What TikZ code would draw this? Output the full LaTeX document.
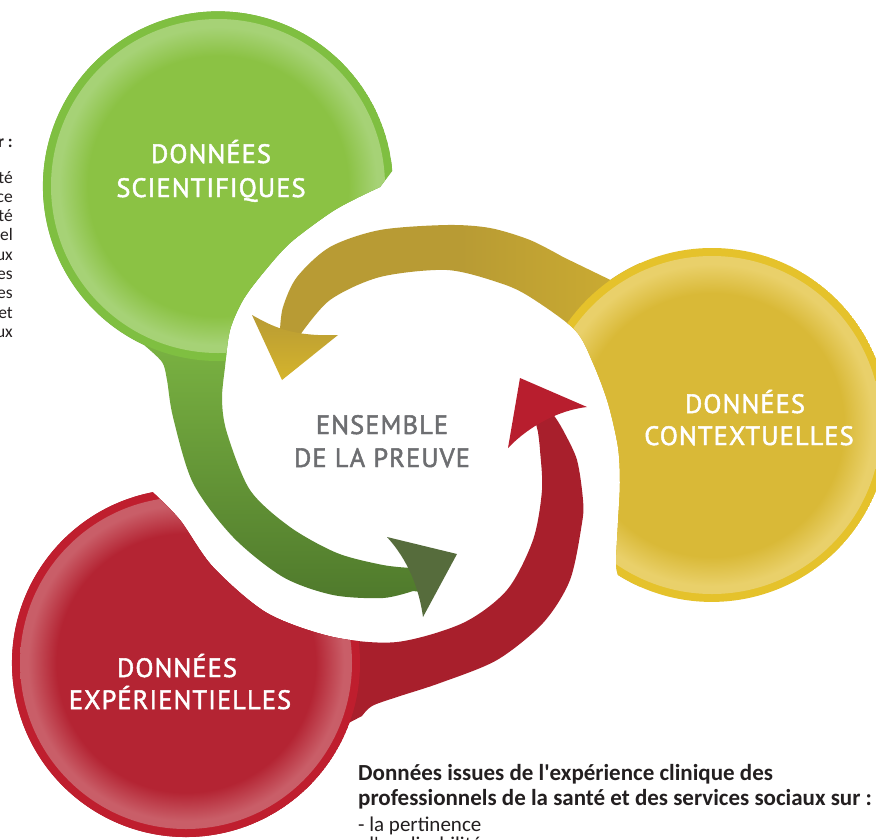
\documentclass[tikz,border=0pt]{standalone}
\usepackage{fontspec}
\setmainfont{Carlito}
\newfontfamily\dinfont[LetterSpace=4, FakeBold=1.8]{PT Sans}

\definecolor{greenrim}{HTML}{7FBF41}
\definecolor{greenin}{HTML}{8BC244}
\definecolor{greenlt}{HTML}{A6D276}
\definecolor{greentop}{HTML}{7AB342}
\definecolor{greenbot}{HTML}{4C752A}
\definecolor{greenhead}{HTML}{566C3C}
\definecolor{yellowrim}{HTML}{E5C22B}
\definecolor{yellowin}{HTML}{D9B937}
\definecolor{yellowlt}{HTML}{E9D06A}
\definecolor{yellowband}{HTML}{B89B34}
\definecolor{yellowjoin}{HTML}{CDAD31}
\definecolor{yellowhead}{HTML}{D5B42C}
\definecolor{redrim}{HTML}{BF1E2E}
\definecolor{redin}{HTML}{B42433}
\definecolor{redlt}{HTML}{C95E68}
\definecolor{redband}{HTML}{A81F2C}
\definecolor{redhead}{HTML}{B81E2E}
\definecolor{coretext}{HTML}{6D6E71}
\definecolor{notetext}{HTML}{231F20}

\pgfdeclareradialshading{glossgreen}{\pgfpoint{0bp}{0bp}}{color(0bp)=(greenin); color(19.5bp)=(greenin); color(23.8bp)=(greenlt); color(25bp)=(greenlt); color(50bp)=(greenlt)}
\pgfdeclareradialshading{glossyellow}{\pgfpoint{0bp}{0bp}}{color(0bp)=(yellowin); color(19.5bp)=(yellowin); color(23.8bp)=(yellowlt); color(25bp)=(yellowlt); color(50bp)=(yellowlt)}
\pgfdeclareradialshading{glossred}{\pgfpoint{0bp}{0bp}}{color(0bp)=(redin); color(19.5bp)=(redin); color(23.8bp)=(redlt); color(25bp)=(redlt); color(50bp)=(redlt)}

\begin{document}
\begin{tikzpicture}[x=1pt, y=1pt,
  bubble/.style={font=\dinfont\fontsize{26.5}{32}\selectfont, text=white, anchor=base, inner sep=0pt},
  core/.style={bubble, text=coretext},
  note/.style={font=\fontsize{21}{25}\selectfont, text=notetext, anchor=base west, inner sep=0pt},
  notebold/.style={note, font=\fontsize{23}{25}\selectfont\bfseries},
  side/.style={font=\fontsize{17.5}{19}\selectfont, text=notetext, anchor=base east, inner sep=0pt}]
\useasboundingbox[fill=white] (0,0) rectangle (876,-839);

% scientific data: circle, stem and arrow
\begin{scope}
  \clip (144,-345) arc[start angle=245, end angle=5, radius=175] -- (392,-171)
    -- plot[smooth] coordinates {(380,-187) (355,-199) (330,-213) (290,-243) (263,-273) (243,-300) (230,-330)
       (225,-367) (222,-400) (227,-433) (250,-490) (290,-527) (337,-553) (383,-565) (412,-568)}
    -- (425,-575) -- (422,-592)
    -- plot[smooth] coordinates {(413,-591) (383,-598) (333,-595) (283,-577) (233,-537) (193,-483)
       (173,-417) (167,-380) (162,-362) (144,-345)} -- cycle;
  \fill[greentop] (0,0) rectangle (480,-340);
  \shade[top color=greentop, bottom color=greenbot] (0,-340) rectangle (480,-620);
  \fill[greenrim] (218,-186) circle (175);
  \shade[shading=glossgreen] (218,-186) circle (167);
\end{scope}
\fill[greenhead] (387,-537) -- (457,-554) -- (423,-617) .. controls (419,-588) and (408,-560) .. (387,-537) -- cycle;

% contextual data
\begin{scope}
  \clip (618,-575) arc[start angle=238, end angle=485, radius=177]
    -- plot[smooth] coordinates {(563,-257) (530,-240) (490,-228) (447,-225) (380,-230) (330,-247)
       (297,-277) (283,-307) (280,-330)}
    -- (282,-345) -- (305,-345)
    -- plot[smooth] coordinates {(300,-335) (330,-300) (380,-277) (447,-270) (500,-283) (530,-297)
       (575,-330) (593,-363) (608,-403) (618,-447) (620,-483) (618,-523) (616,-563) (618,-575)} -- cycle;
  \fill[yellowband] (250,-200) rectangle (460,-360);
  \shade[left color=yellowband, right color=yellowjoin] (460,-200) rectangle (640,-620);
  \fill[yellowrim] (712,-425) circle (177);
  \shade[shading=glossyellow] (712,-425) circle (169);
\end{scope}
\shade[top color=yellowband, bottom color=yellowhead] (252,-315) .. controls (270,-325) and (290,-337) .. (338,-335) -- (282,-380) -- cycle;

% experiential data
\begin{scope}
  \clip (152.8,-492.2) arc[start angle=101, end angle=340, radius=174]
    -- plot[smooth] coordinates {(362,-716) (372,-706) (397,-697) (440,-683) (497,-660) (543,-623)
       (570,-580) (582,-523) (583,-500) (577,-460) (563,-430) (555,-417)}
    -- (545,-405) -- (535,-420)
    -- plot[smooth] coordinates {(538,-432) (540,-450) (542,-490) (533,-540) (507,-590) (463,-623)
       (397,-642) (333,-637) (267,-613) (213,-567) (180,-520) (152.8,-492.2)} -- cycle;
  \fill[redband] (0,-380) rectangle (600,-839);
  \fill[redrim] (186,-663) circle (174);
  \shade[shading=glossred] (186,-663) circle (166);
\end{scope}
\fill[redhead] (520,-378) -- (587,-407) .. controls (560,-410) and (530,-425) .. (508,-448) -- cycle;

% labels
\node[bubble] (sciA) at (211,-163) {DONNÉES};
\node[bubble] (sciB) at (211,-197) {SCIENTIFIQUES};
\node[bubble] (ctxA) at (745,-413) {DONNÉES};
\node[bubble] (ctxB) at (749,-445) {CONTEXTUELLES};
\node[bubble] (expA) at (177,-677) {DONNÉES};
\node[bubble] (expB) at (180,-709) {EXPÉRIENTIELLES};
\node[core] (coreA) at (382,-434) {ENSEMBLE};
\node[core] (coreB) at (382,-467) {DE LA PREUVE};

% notes
\node[notebold] (expnote1) at (358,-780) {Données issues de l\textquotesingle expérience clinique des};
\node[notebold] (expnote2) at (358,-805) {professionnels de la santé et des services sociaux sur :};
\node[note] (expitem1) at (358,-831) {- la pertinence};
\node[note] (expitem2) at (358,-851) {- l\textquotesingle applicabilité};

\node[side, font=\fontsize{17.5}{19}\selectfont\bfseries] (scinote) at (13,-147) {r :};
\foreach \frag [count=\i] in {té,ce,té,el,ux,es,es,et,ux}
  \node[side] (sciitem\i) at (13,-183-19.3*\i+19.3) {\frag};
\end{tikzpicture}
\end{document}
